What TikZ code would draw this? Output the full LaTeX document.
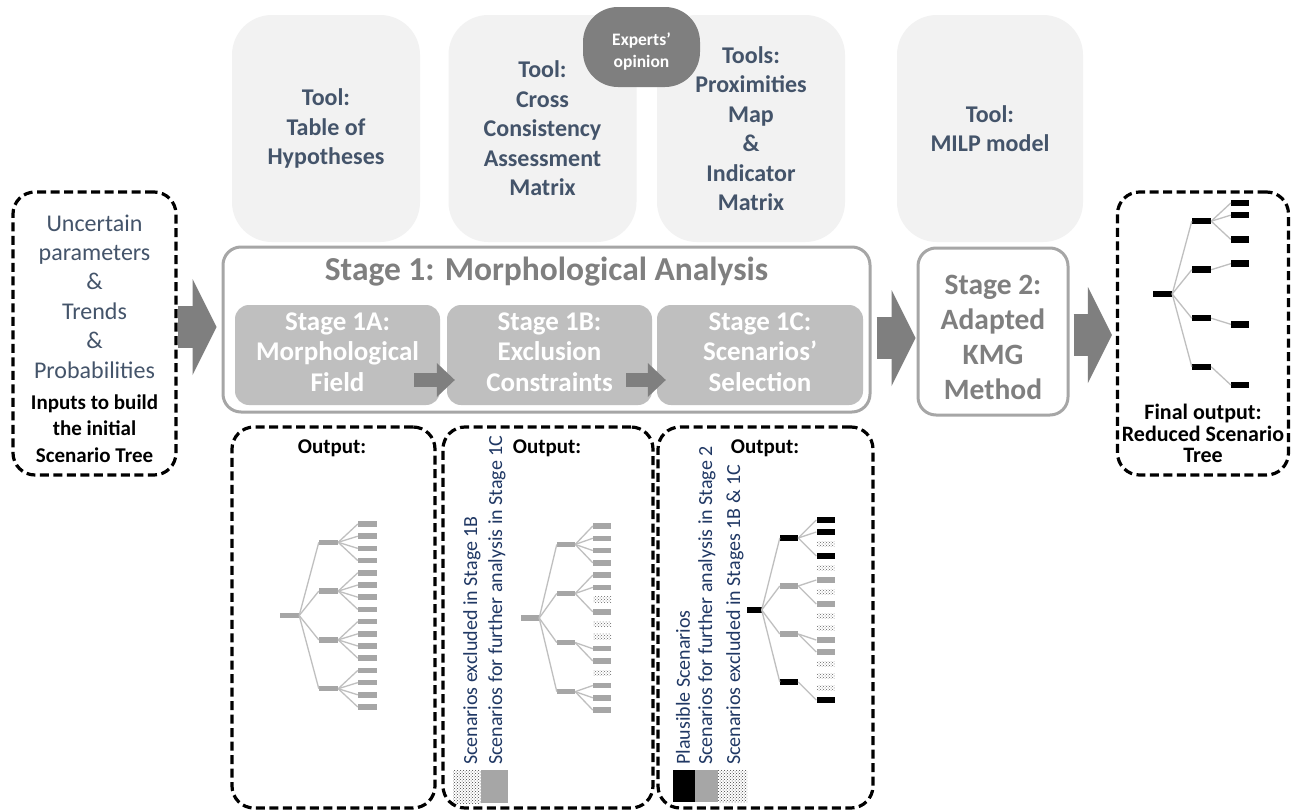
\documentclass[tikz,border=0pt]{standalone}
\usepackage{fontspec}
\setmainfont{Carlito}
\usetikzlibrary{arrows.meta,patterns}

\definecolor{toolfill}{HTML}{F2F2F2}
\definecolor{slate}{HTML}{44546A}
\definecolor{framegray}{HTML}{A6A6A6}
\definecolor{stagetext}{HTML}{7F7F7F}
\definecolor{subfill}{HTML}{BFBFBF}
\definecolor{arrowgray}{HTML}{7F7F7F}
\definecolor{legendblue}{HTML}{203864}
\definecolor{bargray}{HTML}{A6A6A6}
\definecolor{branchgray}{HTML}{BFBFBF}

\newcommand{\fsz}[2]{\fontsize{#1}{#2}\selectfont}

\begin{document}
\begin{tikzpicture}[x=1pt, y=-1pt,
  toolbox/.style={fill=toolfill, rounded corners=40pt, minimum width=188pt,
    minimum height=227pt, text=slate, font={\fsz{24}{29.5}\bfseries}, align=center},
  stagebox/.style={draw=framegray, line width=3pt, rounded corners=18pt, fill=white},
  substage/.style={fill=subfill, rounded corners=14pt, minimum width=205pt,
    minimum height=100pt, text=white, font={\fsz{27}{30.5}\bfseries}, align=center,
    text depth=6pt},
  dashbox/.style={draw=black, line width=3.2pt, dash pattern=on 9pt off 4.5pt,
    rounded corners=22pt},
  bigarrow/.style={draw=arrowgray, line width=42pt,
    -{Triangle[length=24pt, width=96pt, line width=0pt]}},
  smallarrow/.style={draw=arrowgray, line width=14pt,
    -{Triangle[length=18pt, width=34pt, line width=0pt]}},
  leafbar/.style={rectangle, inner sep=0pt, minimum width=19pt, minimum height=5.5pt},
  graybar/.style={leafbar, fill=bargray},
  blackbar/.style={leafbar, fill=black, minimum height=6.5pt},
  dotbar/.style={leafbar, pattern=crosshatch dots, pattern color=black!60},
  branch/.style={draw=branchgray, line width=1.3pt},
  nobranch/.style={draw=none},
  legend/.style={rotate=90, anchor=west, inner sep=0pt, text=legendblue,
    font={\fsz{20}{24}}},
  outtitle/.style={font={\fsz{21}{25}\bfseries}}
]

  \useasboundingbox[fill=white] (0,0) rectangle (1291,811);

  % --- 1. Tools (top row) ---
  \node[toolbox] (tool1A) at (326,128.5) {Tool:\\Table of\\Hypotheses};
  \node[toolbox] (tool1B) at (542.5,128.5) {Tool:\\Cross\\Consistency\\Assessment\\Matrix};
  \node[toolbox] (tool1C) at (751,128.5) {Tools:\\Proximities\\Map\\\&\\Indicator\\Matrix};
  \node[toolbox, minimum width=186pt] (tool2) at (990,128.5) {Tool:\\MILP model};
  \node[fill=arrowgray, rounded corners=35pt, minimum width=117pt, minimum height=80pt]
    (experts) at (641.5,47) {};
  \node[text=white, font={\fsz{17.5}{22}\bfseries}, align=center]
    (experts-text) at ([yshift=-5pt]experts.center) {Experts’\\opinion};

  % --- 2. Input box ---
  \node[dashbox, minimum width=163pt, minimum height=283pt] (in-box) at (94.5,333.5) {};
  \node[text=slate, font={\fsz{24}{29.4}}, align=center] (in-params) at (94.5,296.5)
    {Uncertain\\parameters\\\&\\Trends\\\&\\Probabilities};
  \node[font={\fsz{21}{26.5}\bfseries}, align=center] (in-caption) at (94.5,428.5)
    {Inputs to build\\the initial\\Scenario Tree};

  % --- 3. Stage 1 and its sub-stages ---
  \node[stagebox, minimum width=647pt, minimum height=165pt] (stage1) at (546.5,329.5) {};
  \node[text=stagetext, font={\fsz{33.5}{38}\bfseries}] (stage1-title) at (546.5,272)
    {Stage 1: Morphological Analysis};
  \node[substage] (sub1A) at (337.5,355) {Stage 1A:\\Morphological\\Field};
  \node[substage] (sub1B) at (549.5,355) {Stage 1B:\\Exclusion\\Constraints};
  \node[substage, minimum width=206pt] (sub1C) at (760,355) {Stage 1C:\\Scenarios’\\Selection};
  \draw[smallarrow] ([xshift=-26pt,yshift=-25pt]sub1A.east) -- ([xshift=8pt,yshift=-25pt]sub1B.west);
  \draw[smallarrow] ([xshift=-26pt,yshift=-25pt]sub1B.east) -- ([xshift=9pt,yshift=-25pt]sub1C.west);

  % --- 4. Stage 2 ---
  \node[stagebox, minimum width=150pt, minimum height=167pt] (stage2) at (993,331.5) {};
  \node[text=stagetext, font={\fsz{29.5}{35}\bfseries}, align=center]
    (stage2-text) at ([yshift=-6pt]stage2.center) {Stage 2:\\Adapted\\KMG\\Method};

  % --- 5. Final output box ---
  \node[dashbox, minimum width=171pt, minimum height=283pt] (out-box) at (1203,333.5) {};
  \node[font={\fsz{22}{21.5}\bfseries}, align=center] (out-caption) at (1203,433.5)
    {Final output:\\Reduced Scenario\\Tree};

  % --- 6. Big arrows ---
  \draw[bigarrow] ([yshift=6.5pt]in-box.east) -- ([xshift=-5pt,yshift=2.5pt]stage1.west);
  \draw[bigarrow] ([xshift=5pt,yshift=-8.5pt]stage1.east) -- ([xshift=-1pt,yshift=-6.5pt]stage2.west);
  \draw[bigarrow] ([xshift=4pt,yshift=-3.5pt]stage2.east) -- ([xshift=-4pt,yshift=-1.5pt]out-box.west);

  % --- 7. Output boxes ---
  \node[dashbox, minimum width=203pt, minimum height=381pt] (outA) at (333.5,617.5) {};
  \node[dashbox, minimum width=210pt, minimum height=381pt] (outB) at (548,617.5) {};
  \node[dashbox, minimum width=215pt, minimum height=381pt] (outC) at (765.5,617.5) {};
  \node[outtitle] (outA-title) at (332,448) {Output:};
  \node[outtitle] (outB-title) at (547,448) {Output:};
  \node[outtitle] (outC-title) at (765,448) {Output:};

  % --- 8. Tree 1A: every scenario ---
  \def\ytop{524}\def\dy{12.2}
  \node[graybar] (tA-root) at (289.5,{\ytop+7.5*\dy}) {};
  \foreach \k in {0,...,3}{
    \node[graybar] (tA-m\k) at (328.5,{\ytop+(4*\k+1.5)*\dy}) {};
    \draw[branch] (tA-root.east) -- (tA-m\k.west);
  }
  \foreach \i in {0,...,15}{
    \pgfmathtruncatemacro{\k}{\i/4}
    \node[graybar] (tA-l\i) at (367.5,{\ytop+\i*\dy}) {};
    \draw[branch] (tA-m\k.east) -- (tA-l\i.west);
  }

  % --- 9. Tree 1B: some scenarios excluded ---
  \def\ytop{526}\def\dy{12.27}
  \node[graybar, minimum width=18pt] (tB-root) at (530,{\ytop+7.5*\dy}) {};
  \foreach \k in {0,...,3}{
    \node[graybar, minimum width=18pt] (tB-m\k) at (566,{\ytop+(4*\k+1.5)*\dy}) {};
    \draw[branch] (tB-root.east) -- (tB-m\k.west);
  }
  \foreach \i/\s/\b in {0/graybar/branch,1/graybar/branch,2/graybar/branch,3/graybar/branch,
      4/graybar/branch,5/graybar/branch,6/dotbar/nobranch,7/graybar/branch,
      8/dotbar/nobranch,9/dotbar/nobranch,10/graybar/branch,11/graybar/branch,
      12/dotbar/nobranch,13/graybar/branch,14/graybar/branch,15/graybar/branch}{
    \pgfmathtruncatemacro{\k}{\i/4}
    \node[\s, minimum width=18pt] (tB-l\i) at (602,{\ytop+\i*\dy}) {};
    \draw[\b] (tB-m\k.east) -- (tB-l\i.west);
  }
  \node[legend] (lgB-excl) at (472,765) {Scenarios excluded in Stage 1B};
  \node[legend] (lgB-keep) at (497,765) {Scenarios for further analysis in Stage 1C};
  \node[leafbar, pattern=crosshatch dots, pattern color=black!75, minimum width=28pt,
    minimum height=33pt] (swB-excl) at (467,786.5) {};
  \node[graybar, minimum width=27pt, minimum height=33pt] (swB-keep) at (494.5,786.5) {};

  % --- 10. Tree 1C: plausible scenarios ---
  \def\ytop{520}\def\dy{12}
  \node[blackbar, minimum width=15pt] (tC-root) at (754,{\ytop+7.5*\dy}) {};
  \foreach \k/\s in {0/blackbar,1/graybar,2/graybar,3/blackbar}{
    \node[\s, minimum width=18pt] (tC-m\k) at (789,{\ytop+(4*\k+1.5)*\dy}) {};
    \draw[branch] (tC-root.east) -- (tC-m\k.west);
  }
  \foreach \i/\s/\b in {0/blackbar/branch,1/blackbar/branch,2/dotbar/nobranch,3/blackbar/branch,
      4/dotbar/nobranch,5/graybar/branch,6/dotbar/nobranch,7/graybar/branch,
      8/dotbar/nobranch,9/dotbar/nobranch,10/graybar/branch,11/graybar/branch,
      12/dotbar/nobranch,13/dotbar/nobranch,14/dotbar/nobranch,15/blackbar/branch}{
    \pgfmathtruncatemacro{\k}{\i/4}
    \node[\s, minimum width=18pt] (tC-l\i) at (825.5,{\ytop+\i*\dy}) {};
    \draw[\b] (tC-m\k.east) -- (tC-l\i.west);
  }
  \node[legend] (lgC-plaus) at (683,765) {Plausible Scenarios};
  \node[legend] (lgC-keep) at (707,765) {Scenarios for further analysis in Stage 2};
  \node[legend] (lgC-excl) at (735,765) {Scenarios excluded in Stages 1B \& 1C};
  \node[leafbar, fill=black, minimum width=22pt, minimum height=32pt] (swC-plaus) at (684,786) {};
  \node[graybar, minimum width=23pt, minimum height=32pt] (swC-keep) at (706.5,786) {};
  \node[leafbar, pattern=crosshatch dots, pattern color=black!75, minimum width=29pt,
    minimum height=32pt] (swC-excl) at (732.5,786) {};

  % --- 11. Reduced tree ---
  \def\ytop{203}\def\dy{12.13}
  \node[blackbar] (tR-root) at (1162.5,{\ytop+7.5*\dy}) {};
  \foreach \k in {0,...,3}{
    \node[blackbar] (tR-m\k) at (1201.5,{\ytop+(4*\k+1.5)*\dy}) {};
    \draw[branch] (tR-root.east) -- (tR-m\k.west);
  }
  \foreach \i in {0,1,3,5,10,15}{
    \pgfmathtruncatemacro{\k}{\i/4}
    \node[blackbar, minimum width=18pt] (tR-l\i) at (1240,{\ytop+\i*\dy}) {};
    \draw[branch] (tR-m\k.east) -- (tR-l\i.west);
  }

\end{tikzpicture}
\end{document}
